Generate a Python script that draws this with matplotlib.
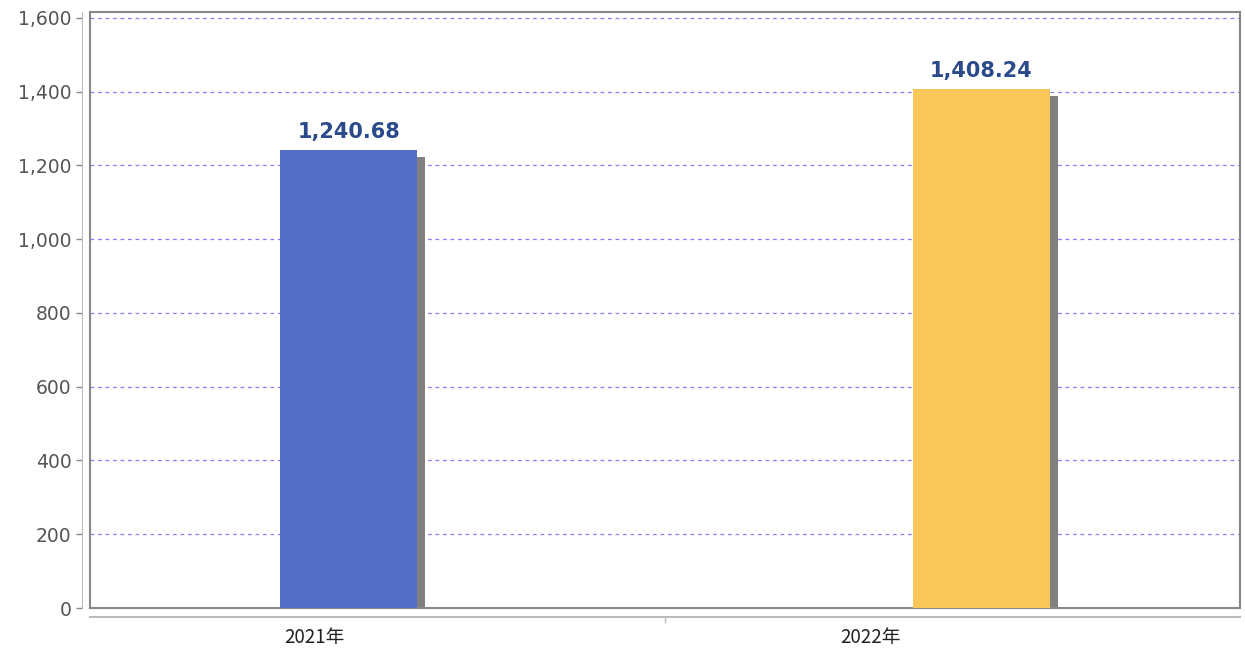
import matplotlib.pyplot as plt
import matplotlib.transforms as mtransforms

plt.rcParams['font.family'] = ['DejaVu Sans', 'Noto Sans CJK SC']

categories = ['2021年', '2022年']
values = [1240.68, 1408.24]
colors = ['#536FC5', '#F9C758']
yticks = [0, 200, 400, 600, 800, 1000, 1200, 1400, 1600]

fig = plt.figure(figsize=(12.45, 6.53), dpi=100)
ax = fig.add_axes([90 / 1245, 45 / 653, 1150 / 1245, 596 / 653])

xpos = [0.45, 1.55]
width = 0.238
# shadow offset: 8px right, 7px down
dx = 8 / 575
dy = 7 * 1616 / 596
for x, v, c in zip(xpos, values, colors):
    ax.bar(x + dx, v - dy, width, color='#808080', zorder=2)
    ax.bar(x, v, width, color=c, zorder=3)
    ax.text(x, v + 22, f'{v:,.2f}', ha='center', va='bottom',
            fontsize=15, color='#2B4A8B', fontweight='semibold', zorder=4)

ax.set_xlim(0, 2)
ax.set_ylim(0, 1616)
ax.set_yticks(yticks)
ax.grid(axis='y', color='#8080ff', linestyle=(0, (3, 3)), linewidth=0.9, zorder=1)
ax.tick_params(left=False, labelleft=False, bottom=False, labelbottom=False)
for s in ax.spines.values():
    s.set_color('#888888')
    s.set_linewidth(1.5)

# outer y axis
ya = ax.secondary_yaxis(-8 / 1150)
ya.set_yticks(yticks)
ya.set_yticklabels([f'{t:,}' for t in yticks])
ya.tick_params(colors='#888888', labelcolor='#555555', labelsize=13.5, length=4, width=1)
ya.spines['left'].set_color('#bbbbbb')

# outer x axis
xa = ax.secondary_xaxis(-9 / 596)
xa.set_xticks([1])
xa.set_xticklabels([''])
xa.tick_params(colors='#bbbbbb', length=4, width=1)
xa.spines['bottom'].set_color('#bbbbbb')
xa.spines['bottom'].set_linewidth(1.5)

label_x = [0.391, 1.357]
for lx, lab in zip(label_x, categories):
    ax.text(lx, -30 / 596, lab, transform=mtransforms.blended_transform_factory(ax.transData, ax.transAxes),
            ha='center', va='center', fontsize=13.5, color='#222222',
            family=['Noto Sans CJK SC', 'DejaVu Sans'])

fig.savefig('out.png', dpi=100)
